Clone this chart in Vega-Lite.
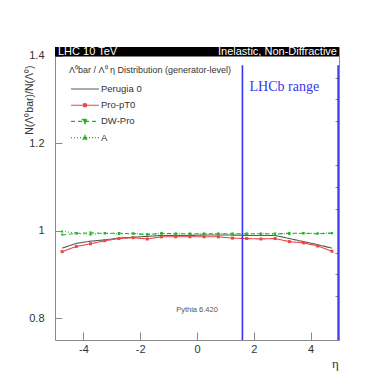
{
  "$schema": "https://vega.github.io/schema/vega-lite/v6.json",
  "width": 284,
  "height": 293,
  "autosize": {"type": "none"},
  "padding": {"left": 55, "top": 47, "right": 48, "bottom": 50},
  "background": "white",
  "config": {
    "view": {"stroke": "#8a8a8a", "strokeWidth": 1},
    "font": "Liberation Sans",
    "axis": {"grid": false, "domain": false, "tickColor": "#8a8a8a", "labelColor": "#333333", "labelFont": "Liberation Sans", "labelFontSize": 11, "titleFont": "Liberation Sans", "titleFontWeight": "normal", "titleColor": "#333333"}
  },
  "data": {"values": [
    {"model": "Perugia 0", "eta": -4.75, "ratio": 0.960}, {"model": "Perugia 0", "eta": -4.25, "ratio": 0.971},
    {"model": "Perugia 0", "eta": -3.75, "ratio": 0.976}, {"model": "Perugia 0", "eta": -3.25, "ratio": 0.979},
    {"model": "Perugia 0", "eta": -2.75, "ratio": 0.983}, {"model": "Perugia 0", "eta": -2.25, "ratio": 0.985},
    {"model": "Perugia 0", "eta": -1.75, "ratio": 0.987}, {"model": "Perugia 0", "eta": -1.25, "ratio": 0.989},
    {"model": "Perugia 0", "eta": -0.75, "ratio": 0.989}, {"model": "Perugia 0", "eta": -0.25, "ratio": 0.989},
    {"model": "Perugia 0", "eta": 0.25, "ratio": 0.990}, {"model": "Perugia 0", "eta": 0.75, "ratio": 0.990},
    {"model": "Perugia 0", "eta": 1.25, "ratio": 0.990}, {"model": "Perugia 0", "eta": 1.75, "ratio": 0.989},
    {"model": "Perugia 0", "eta": 2.25, "ratio": 0.989}, {"model": "Perugia 0", "eta": 2.75, "ratio": 0.989},
    {"model": "Perugia 0", "eta": 3.25, "ratio": 0.982}, {"model": "Perugia 0", "eta": 3.75, "ratio": 0.975},
    {"model": "Perugia 0", "eta": 4.25, "ratio": 0.968}, {"model": "Perugia 0", "eta": 4.75, "ratio": 0.960},
    {"model": "Pro-pT0", "eta": -4.75, "ratio": 0.952}, {"model": "Pro-pT0", "eta": -4.25, "ratio": 0.964},
    {"model": "Pro-pT0", "eta": -3.75, "ratio": 0.970}, {"model": "Pro-pT0", "eta": -3.25, "ratio": 0.977},
    {"model": "Pro-pT0", "eta": -2.75, "ratio": 0.982}, {"model": "Pro-pT0", "eta": -2.25, "ratio": 0.984},
    {"model": "Pro-pT0", "eta": -1.75, "ratio": 0.981}, {"model": "Pro-pT0", "eta": -1.25, "ratio": 0.986},
    {"model": "Pro-pT0", "eta": -0.75, "ratio": 0.986}, {"model": "Pro-pT0", "eta": -0.25, "ratio": 0.986},
    {"model": "Pro-pT0", "eta": 0.25, "ratio": 0.986}, {"model": "Pro-pT0", "eta": 0.75, "ratio": 0.986},
    {"model": "Pro-pT0", "eta": 1.25, "ratio": 0.983}, {"model": "Pro-pT0", "eta": 1.75, "ratio": 0.982},
    {"model": "Pro-pT0", "eta": 2.25, "ratio": 0.981}, {"model": "Pro-pT0", "eta": 2.75, "ratio": 0.982},
    {"model": "Pro-pT0", "eta": 3.25, "ratio": 0.975}, {"model": "Pro-pT0", "eta": 3.75, "ratio": 0.972},
    {"model": "Pro-pT0", "eta": 4.25, "ratio": 0.965}, {"model": "Pro-pT0", "eta": 4.75, "ratio": 0.953},
    {"model": "DW-Pro", "eta": -4.75, "ratio": 0.990}, {"model": "DW-Pro", "eta": -4.25, "ratio": 0.994},
    {"model": "DW-Pro", "eta": -3.75, "ratio": 0.995}, {"model": "DW-Pro", "eta": -3.25, "ratio": 0.994},
    {"model": "DW-Pro", "eta": -2.75, "ratio": 0.994}, {"model": "DW-Pro", "eta": -2.25, "ratio": 0.993},
    {"model": "DW-Pro", "eta": -1.75, "ratio": 0.991}, {"model": "DW-Pro", "eta": -1.25, "ratio": 0.994},
    {"model": "DW-Pro", "eta": -0.75, "ratio": 0.993}, {"model": "DW-Pro", "eta": -0.25, "ratio": 0.993},
    {"model": "DW-Pro", "eta": 0.25, "ratio": 0.993}, {"model": "DW-Pro", "eta": 0.75, "ratio": 0.993},
    {"model": "DW-Pro", "eta": 1.25, "ratio": 0.993}, {"model": "DW-Pro", "eta": 1.75, "ratio": 0.993},
    {"model": "DW-Pro", "eta": 2.25, "ratio": 0.993}, {"model": "DW-Pro", "eta": 2.75, "ratio": 0.993},
    {"model": "DW-Pro", "eta": 3.25, "ratio": 0.994}, {"model": "DW-Pro", "eta": 3.75, "ratio": 0.994},
    {"model": "DW-Pro", "eta": 4.25, "ratio": 0.993}, {"model": "DW-Pro", "eta": 4.75, "ratio": 0.994},
    {"model": "A", "eta": -4.75, "ratio": 0.999}, {"model": "A", "eta": -4.25, "ratio": 0.994},
    {"model": "A", "eta": -3.75, "ratio": 0.992}, {"model": "A", "eta": -3.25, "ratio": 0.994},
    {"model": "A", "eta": -2.75, "ratio": 0.993}, {"model": "A", "eta": -2.25, "ratio": 0.994},
    {"model": "A", "eta": -1.75, "ratio": 0.992}, {"model": "A", "eta": -1.25, "ratio": 0.993},
    {"model": "A", "eta": -0.75, "ratio": 0.993}, {"model": "A", "eta": -0.25, "ratio": 0.992},
    {"model": "A", "eta": 0.25, "ratio": 0.993}, {"model": "A", "eta": 0.75, "ratio": 0.993},
    {"model": "A", "eta": 1.25, "ratio": 0.992}, {"model": "A", "eta": 1.75, "ratio": 0.993},
    {"model": "A", "eta": 2.25, "ratio": 0.993}, {"model": "A", "eta": 2.75, "ratio": 0.992},
    {"model": "A", "eta": 3.25, "ratio": 0.993}, {"model": "A", "eta": 3.75, "ratio": 0.994},
    {"model": "A", "eta": 4.25, "ratio": 0.994}, {"model": "A", "eta": 4.75, "ratio": 0.995}
  ]},
  "resolve": {"axis": {"x": "independent", "y": "independent"}},
  "layer": [
    {
      "mark": {"type": "line", "strokeWidth": 1.1},
      "encoding": {
        "x": {"field": "eta", "type": "quantitative", "scale": {"domain": [-5, 5], "nice": false, "zero": false},
          "axis": {"values": [-4, -2, 0, 2, 4], "labelExpr": "toString(datum.value)", "tickSize": -8, "labelPadding": 11, "title": "η", "titleFont": "Liberation Serif", "titleFontSize": 13, "titleX": 280, "titleY": 23, "titleAlign": "center", "titleBaseline": "middle"}},
        "y": {"field": "ratio", "type": "quantitative", "scale": {"domain": [0.75, 1.42], "nice": false, "zero": false},
          "axis": {"values": [0.8, 1, 1.2, 1.4], "format": "~g", "tickSize": -7, "labelPadding": 18, "title": "N(Λ⁰bar)/N(Λ⁰)", "titleFontSize": 10.5, "titleAngle": 270, "titleAlign": "right", "titleBaseline": "alphabetic", "titleX": -23, "titleY": 18}},
        "color": {"field": "model", "type": "nominal",
          "scale": {"domain": ["Perugia 0", "Pro-pT0", "DW-Pro", "A"], "range": ["#5a5a5a", "#e84848", "#22b322", "#22b322"]},
          "legend": {"orient": "none", "legendX": 14, "legendY": 19, "title": "Λ⁰bar / Λ⁰ η Distribution (generator-level)", "titleFontSize": 9, "titleFontWeight": "normal", "titleColor": "#333333", "titlePadding": 8, "symbolSize": 100, "symbolStrokeWidth": 1.1, "symbolOffset": 10, "labelFontSize": 9.5, "labelColor": "#333333", "labelOffset": 10, "rowPadding": 5.2, "padding": 0,
            "encode": {"symbols": {"update": {
              "fill": {"scale": "color", "field": "value"},
              "shape": {"signal": "datum.value === 'Pro-pT0' ? 'M-2.8,0L2.8,0M-0.3,-0.3L0.3,-0.3L0.3,0.3L-0.3,0.3Z' : datum.value === 'DW-Pro' ? 'M-2.8,0L2.8,0M-0.5,-0.4L0.5,-0.4L0,0.45Z' : datum.value === 'A' ? 'M-2.8,0L2.8,0M-0.5,0.4L0.5,0.4L0,-0.45Z' : 'M-2.8,0L2.8,0'"}
            }}}}},
        "strokeDash": {"field": "model", "type": "nominal",
          "scale": {"domain": ["Perugia 0", "Pro-pT0", "DW-Pro", "A"], "range": [[1, 0], [1, 0], [4, 3], [1, 2]]}}
      }
    },
    {
      "transform": [{"filter": "datum.model !== 'Perugia 0'"}],
      "mark": {"type": "point", "filled": true, "opacity": 1, "size": 9},
      "encoding": {
        "x": {"field": "eta", "type": "quantitative", "scale": {"domain": [-5, 5], "nice": false, "zero": false}, "axis": null},
        "y": {"field": "ratio", "type": "quantitative", "scale": {"domain": [0.75, 1.42], "nice": false, "zero": false}, "axis": null},
        "color": {"field": "model", "type": "nominal"},
        "shape": {"field": "model", "type": "nominal",
          "scale": {"domain": ["Pro-pT0", "DW-Pro", "A"], "range": ["square", "triangle-down", "triangle-up"]},
          "legend": null}
      }
    },
    {
      "data": {"values": [{}]},
      "mark": {"type": "rule", "color": "#3535f0", "strokeWidth": 1.6},
      "encoding": {
        "x": {"datum": 1.6, "type": "quantitative", "scale": {"domain": [-5, 5], "nice": false, "zero": false}, "axis": null},
        "y": {"datum": 0.75, "type": "quantitative", "scale": {"domain": [0.75, 1.42], "nice": false, "zero": false}, "axis": null},
        "y2": {"datum": 1.378}
      }
    },
    {
      "data": {"values": [{}]},
      "mark": {"type": "rule", "color": "#3535f0", "strokeWidth": 1.6},
      "encoding": {
        "x": {"datum": 4.97, "type": "quantitative", "scale": {"domain": [-5, 5], "nice": false, "zero": false}, "axis": null},
        "y": {"datum": 0.75, "type": "quantitative", "scale": {"domain": [0.75, 1.42], "nice": false, "zero": false}, "axis": null},
        "y2": {"datum": 1.378}
      }
    },
    {
      "data": {"values": [{}]},
      "mark": {"type": "text", "text": "LHCb range", "font": "Liberation Serif", "fontSize": 14, "color": "#3535f0", "align": "left", "baseline": "middle"},
      "encoding": {
        "x": {"datum": 1.85, "type": "quantitative", "scale": {"domain": [-5, 5], "nice": false, "zero": false}, "axis": null},
        "y": {"datum": 1.328, "type": "quantitative", "scale": {"domain": [0.75, 1.42], "nice": false, "zero": false}, "axis": null}
      }
    },
    {
      "data": {"values": [{}]},
      "mark": {"type": "text", "text": "Pythia 6.420", "fontSize": 7.5, "color": "#555555", "align": "center", "baseline": "middle"},
      "encoding": {
        "x": {"datum": 0, "type": "quantitative", "scale": {"domain": [-5, 5], "nice": false, "zero": false}, "axis": null},
        "y": {"datum": 0.819, "type": "quantitative", "scale": {"domain": [0.75, 1.42], "nice": false, "zero": false}, "axis": null}
      }
    },
    {
      "data": {"values": [{}]},
      "mark": {"type": "rect", "color": "black"},
      "encoding": {
        "x": {"datum": -5, "type": "quantitative", "scale": {"domain": [-5, 5], "nice": false, "zero": false}, "axis": null},
        "x2": {"datum": 5},
        "y": {"datum": 1.398, "type": "quantitative", "scale": {"domain": [0.75, 1.42], "nice": false, "zero": false}, "axis": null},
        "y2": {"datum": 1.42}
      }
    },
    {
      "data": {"values": [{}]},
      "mark": {"type": "text", "text": "LHC 10 TeV", "fontSize": 11, "color": "white", "align": "left", "baseline": "middle", "dx": 3, "dy": 0.5},
      "encoding": {
        "x": {"datum": -5, "type": "quantitative", "scale": {"domain": [-5, 5], "nice": false, "zero": false}, "axis": null},
        "y": {"datum": 1.409, "type": "quantitative", "scale": {"domain": [0.75, 1.42], "nice": false, "zero": false}, "axis": null}
      }
    },
    {
      "data": {"values": [{}]},
      "mark": {"type": "text", "text": "Inelastic, Non-Diffractive", "fontSize": 11, "color": "white", "align": "right", "baseline": "middle", "dx": -2, "dy": 0.5},
      "encoding": {
        "x": {"datum": 5, "type": "quantitative", "scale": {"domain": [-5, 5], "nice": false, "zero": false}, "axis": null},
        "y": {"datum": 1.409, "type": "quantitative", "scale": {"domain": [0.75, 1.42], "nice": false, "zero": false}, "axis": null}
      }
    },
    {
      "mark": {"type": "point", "opacity": 0},
      "encoding": {
        "x": {"field": "eta", "type": "quantitative", "scale": {"domain": [-5, 5], "nice": false, "zero": false},
          "axis": {"values": [-4.8, -4.6, -4.4, -4.2, -3.8, -3.6, -3.4, -3.2, -3, -2.8, -2.6, -2.4, -2.2, -1.8, -1.6, -1.4, -1.2, -1, -0.8, -0.6, -0.4, -0.2, 0.2, 0.4, 0.6, 0.8, 1, 1.2, 1.4, 1.6, 1.8, 2.2, 2.4, 2.6, 2.8, 3, 3.2, 3.4, 3.6, 3.8, 4.2, 4.4, 4.6, 4.8], "tickSize": -4, "labels": false, "title": null}},
        "y": {"field": "ratio", "type": "quantitative", "scale": {"domain": [0.75, 1.42], "nice": false, "zero": false},
          "axis": {"values": [0.75, 0.85, 0.9, 0.95, 1.05, 1.1, 1.15, 1.25, 1.3, 1.35], "tickSize": -4, "labels": false, "title": null}}
      }
    }
  ]
}
